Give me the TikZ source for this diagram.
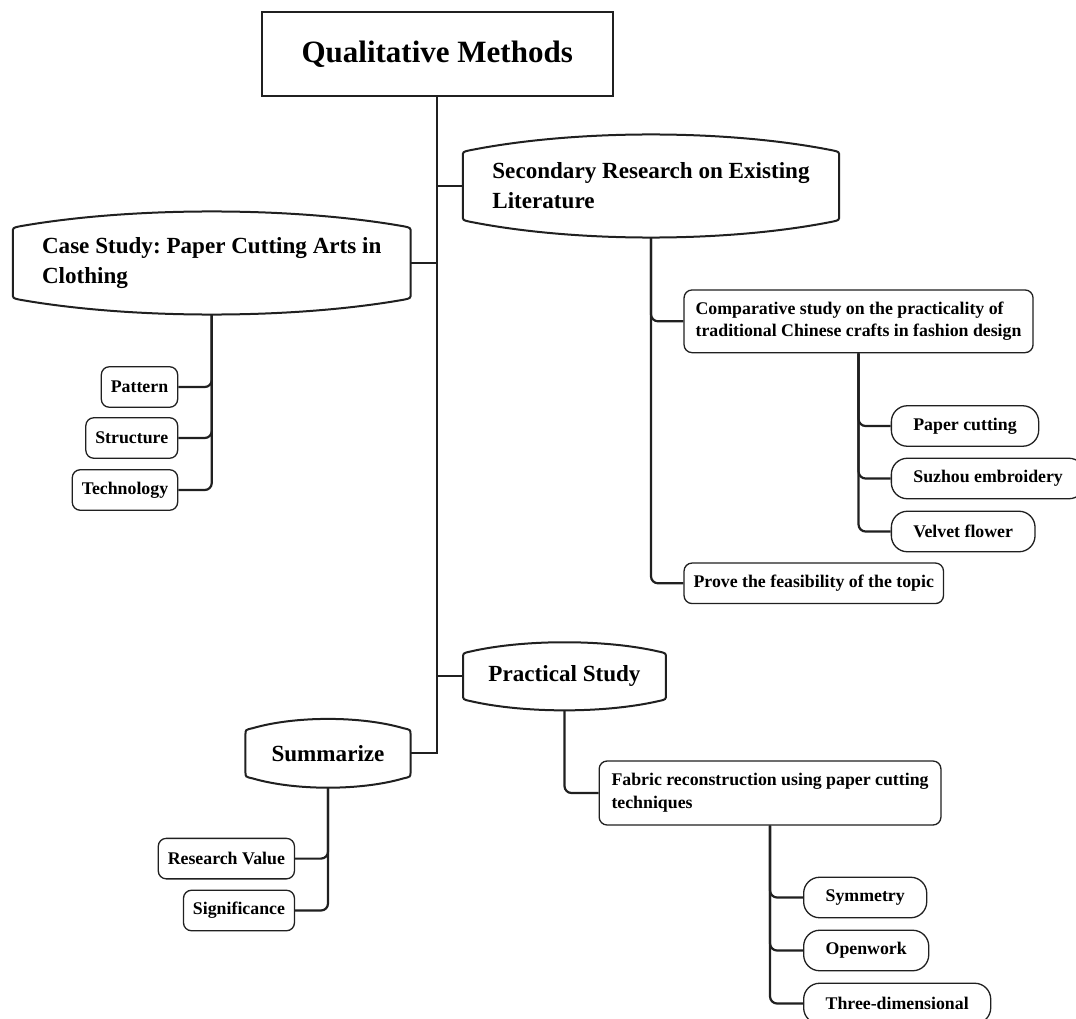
\documentclass[tikz,border=0pt]{standalone}
\usepackage{fontspec}
\setmainfont{Liberation Serif}
\usepackage{xcolor}
\usetikzlibrary{calc}
\frenchspacing

\definecolor{ink}{HTML}{202020}

% Frame of a heading node: straight sides, bowed top and bottom
\newcommand{\bowlframe}[2]{%
  \draw[outline] let \p1=(#1.north west), \p2=(#1.south east) in
    (\x1,\y2+5pt) -- (\x1,\y1-5pt) .. controls (\x1,\y1) .. (\x1+7pt,\y1+1.5pt)
    .. controls ({\x1+0.3*(\x2-\x1)},{\y1+1.33*#2}) and ({\x2-0.3*(\x2-\x1)},{\y1+1.33*#2}) .. (\x2-7pt,\y1+1.5pt)
    .. controls (\x2,\y1) .. (\x2,\y1-5pt) -- (\x2,\y2+5pt)
    .. controls (\x2,\y2) .. (\x2-7pt,\y2-1.5pt)
    .. controls ({\x2-0.3*(\x2-\x1)},{\y2-1.33*#2}) and ({\x1+0.3*(\x2-\x1)},{\y2-1.33*#2}) .. (\x1+7pt,\y2-1.5pt)
    .. controls (\x1,\y2) .. cycle;
  \coordinate (#1-bot) at ([yshift=-#2]#1.south);
}

\begin{document}
\begin{tikzpicture}[x=1pt, y=-1pt,
    outline/.style={draw=ink, line width=2pt},
    link/.style={draw=ink, line width=2.2pt},
    fork/.style={link, rounded corners=7pt},
    box/.style={draw=ink, line width=1.3pt, rounded corners=8pt, inner xsep=9.5pt, inner ysep=0pt,
      minimum height=40.5pt, font=\fontsize{17.8}{22.7}\selectfont\bfseries},
    pill/.style={box, rounded corners=16pt, inner xsep=22pt},
    head/.style={inner sep=0pt, align=left, font=\fontsize{23.1}{30}\selectfont\bfseries}]

    % Page
    \fill[white] (0,0) rectangle (1076,1019);
    \useasboundingbox (0,0) rectangle (1076,1019);

    % Root
    \node[draw=ink, line width=2pt, minimum width=351pt, minimum height=84.3pt,
      font=\fontsize{31}{36}\selectfont\bfseries] (title) at (437.2,53.9) {Qualitative Methods};

    % Headings
    \node[head, minimum width=397.5pt, minimum height=70pt] (case) at (211.75,263)
      {Case Study: Paper Cutting Arts in\\Clothing};
    \node[head, minimum width=376pt, minimum height=68pt] (sec) at (651,186)
      {Secondary Research on Existing\\Literature};
    \node[head, minimum width=202.5pt, minimum height=46pt] (prac) at (564.5,676.3) {Practical Study};
    \node[head, minimum width=164.7pt, minimum height=46.7pt] (summ) at (328,753.3) {Summarize};

    \bowlframe{case}{16pt}
    \bowlframe{sec}{17pt}
    \bowlframe{prac}{10.5pt}
    \bowlframe{summ}{10.5pt}

    % Trunk
    \draw[link] (title.south) |- (summ.east);
    \draw[link] (title.south |- case.east) -- (case.east);
    \draw[link] (title.south |- sec.west) -- (sec.west);
    \draw[link] (title.south |- prac.west) -- (prac.west);

    % Case study branch
    \foreach \name/\txt/\y in {pat/Pattern/387, struc/Structure/438, tech/Technology/490} {
      \node[box, anchor=east] (\name) at (178.3,\y) {\txt};
      \draw[fork] (case-bot) |- (\name.east);
    }

    % Secondary research branch
    \node[box, anchor=west, align=left, minimum width=349pt, minimum height=62.7pt] (comp) at (683.4,321.3)
      {Comparative study on the practicality of\\traditional Chinese crafts in fashion design};
    \node[box, anchor=west] (prove) at (683.4,583.3) {Prove the feasibility of the topic};
    \draw[fork] (sec-bot) |- (comp.west);
    \draw[fork] (sec-bot) |- (prove.west);

    \foreach \name/\txt/\y in {paper/Paper cutting/426, suzhou/Suzhou embroidery/478.5, velvet/Velvet flower/531.5} {
      \node[pill, anchor=west] (\name) at (890.7,\y) {\txt};
      \draw[fork] (comp.south) |- (\name.west);
    }

    % Practical study branch
    \node[box, anchor=west, align=left, minimum width=341.8pt, minimum height=64pt] (fabric) at (598.5,793)
      {Fabric reconstruction using paper cutting\\techniques};
    \draw[fork] (prac-bot) |- (fabric.west);

    \foreach \name/\txt/\y in {sym/Symmetry/897.5, open/Openwork/950.5, three/Three-dimensional/1003.5} {
      \node[pill, anchor=west] (\name) at (803,\y) {\txt};
      \draw[fork] (fabric.south) |- (\name.west);
    }

    % Summary branch
    \foreach \name/\txt/\y in {value/Research Value/858.6, sig/Significance/910.5} {
      \node[box, anchor=east] (\name) at (295.1,\y) {\txt};
      \draw[fork] (summ-bot) |- (\name.east);
    }
\end{tikzpicture}
\end{document}
